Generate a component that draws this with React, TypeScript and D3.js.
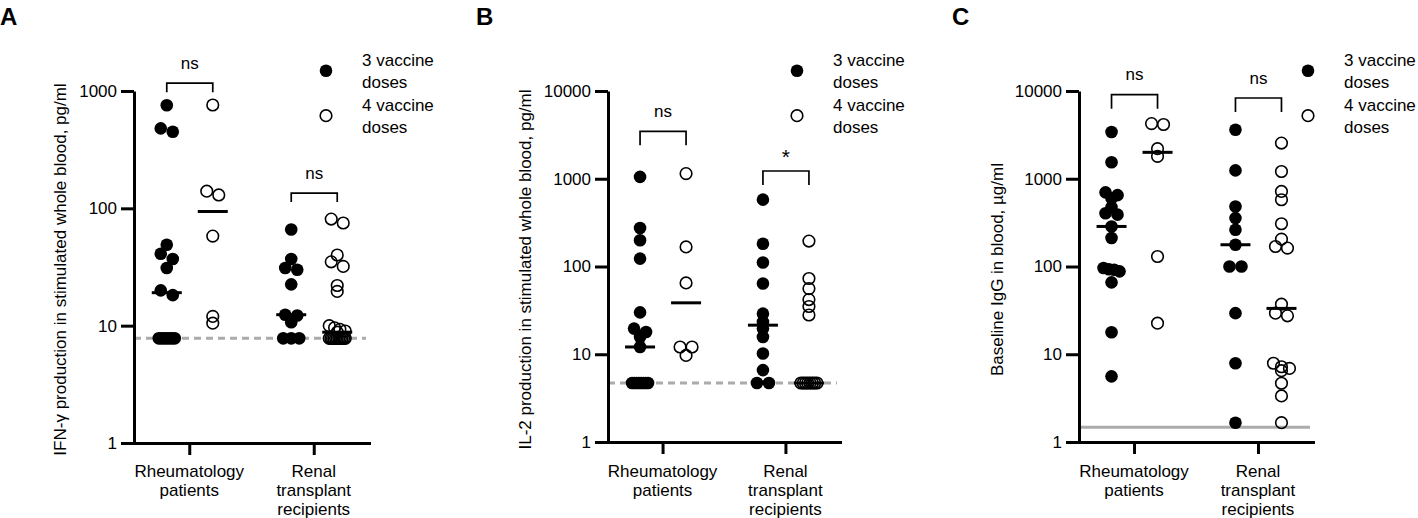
import React, { useEffect, useRef } from "react";
import * as d3 from "d3";

// categories / groups
const categories = ["Rheumatology patients", "Renal transplant recipients"];
const categoryLines = [["Rheumatology", "patients"], ["Renal", "transplant", "recipients"]];
const doses = ["3 vaccine doses", "4 vaccine doses"];
const legendLines = [["3 vaccine", "doses"], ["4 vaccine", "doses"]];

// A: IFN-γ, pg/ml
const ifnRheum3 = [757, 480, 450, 49, 41, 37, 31, 20, 18.2, 7.8, 7.8, 7.8, 7.8, 7.8, 7.8, 7.8];
const ifnRheum4 = [760, 140, 130, 58, 12, 10.5];
const ifnRenal3 = [66, 37, 31, 30, 22.5, 12.4, 12.2, 10.7, 7.8, 7.8, 7.8];
const ifnRenal4 = [81, 75, 40, 35, 32, 22, 19.6, 10, 9.6, 9.3, 9.0, 8.8, 7.8, 7.8, 7.8, 7.8, 7.8, 7.8, 7.8, 7.8, 7.8, 7.8, 7.8];

// B: IL-2, pg/ml
const il2Rheum3 = [1050, 275, 199, 123, 30, 19.6, 17.9, 15.7, 12.1, 4.7, 4.7, 4.7, 4.7, 4.7, 4.7, 4.7, 4.7];
const il2Rheum4 = [1145, 167, 65, 12.1, 12.1, 9.7];
const il2Renal3 = [578, 182, 111, 64, 29, 23.3, 19.6, 15.7, 10.2, 6.6, 4.7, 4.7];
const il2Renal4 = [195, 73, 56, 42, 35, 28, 4.7, 4.7, 4.7, 4.7, 4.7, 4.7, 4.7, 4.7];

// C: baseline IgG, µg/ml
const iggRheum3 = [3410, 1540, 700, 650, 600, 475, 405, 390, 286, 211, 96, 93, 92, 88, 66, 17.8, 5.6];
const iggRheum4 = [4250, 4150, 2200, 1800, 130, 22.6];
const iggRenal3 = [3620, 1245, 483, 356, 262, 177, 100, 100, 29.4, 7.9, 1.66];
const iggRenal4 = [2550, 1210, 717, 576, 307, 205, 169, 162, 37.2, 29.4, 27.4, 7.9, 7.2, 6.9, 6.5, 4.67, 3.35, 1.66];

const panelLetters = ["A", "B", "C"];
const yLabels = [
  "IFN-γ production in stimulated whole blood, pg/ml",
  "IL-2 production in stimulated whole blood, pg/ml",
  "Baseline IgG in blood, µg/ml",
];
const yTicks = [
  [1, 10, 100, 1000],
  [1, 10, 100, 1000, 10000],
  [1, 10, 100, 1000, 10000],
];
const cutoffs = [7.8, 4.7, 1.47];
const bracketTops = [
  [1165, 135],
  [3475, 1225],
  [9080, 8320],
];
const sigLabels = [
  ["ns", "ns"],
  ["ns", "*"],
  ["ns", "ns"],
];

const seriesA = [
  [ifnRheum3, ifnRheum4],
  [ifnRenal3, ifnRenal4],
];
const seriesB = [
  [il2Rheum3, il2Rheum4],
  [il2Renal3, il2Renal4],
];
const seriesC = [
  [iggRheum3, iggRheum4],
  [iggRenal3, iggRenal4],
];
const allSeries = [seriesA, seriesB, seriesC];

// layout (pixels)
const layout = [
  { x0: 134, x1: 369, yTop: 91, yBottom: 443, labelX: 66, legendX: 326, legLen: 9, letterX: 0, dashed: true },
  { x0: 608, x1: 840, yTop: 91, yBottom: 442, labelX: 531, legendX: 797, legLen: 14, letterX: 476, dashed: true },
  { x0: 1079, x1: 1313, yTop: 91, yBottom: 442, labelX: 1003, legendX: 1308, legLen: 14, letterX: 952, dashed: false },
];

const FONT = "'Liberation Sans', Arial, sans-serif";
const R = 6.3;

// Prism-like row scatter: points close in y share a row and spread sideways
function swarm(values: number[], y: (v: number) => number) {
  const pts = values.map((v) => ({ v, y: y(v), dx: 0 })).sort((a, b) => a.y - b.y);
  const rows: (typeof pts)[] = [];
  let cur: typeof pts = [];
  pts.forEach((p) => {
    if (cur.length && p.y - cur[0].y >= 5.5) {
      rows.push(cur);
      cur = [];
    }
    cur.push(p);
  });
  if (cur.length) rows.push(cur);
  rows.forEach((row) => {
    const k = row.length;
    const sp = k > 1 ? Math.min(12, 16 / (k - 1)) : 0;
    row.forEach((p, i) => (p.dx = (i - (k - 1) / 2) * sp));
  });
  return pts;
}

export default function App() {
  const ref = useRef<SVGSVGElement>(null);

  useEffect(() => {
    document.body.style.margin = "0";
    const svg = d3.select(ref.current);
    svg.selectAll("*").remove();

    layout.forEach((L, pi) => {
      const g = svg.append("g").attr("font-family", FONT);
      const ticks = yTicks[pi];
      const y = d3.scaleLog([1, ticks[ticks.length - 1]], [L.yBottom, L.yTop]);
      const x = d3.scalePoint(categories, [L.x0, L.x1]).padding(0.444);
      const xd = d3.scalePoint(doses, [-22.5, 23.5]);

      // panel letter
      g.append("text")
        .attr("x", L.letterX)
        .attr("y", 25)
        .attr("font-size", 24)
        .attr("font-weight", "bold")
        .text(panelLetters[pi]);

      // cutoff line
      g.append("line")
        .attr("x1", L.x0)
        .attr("x2", L.x1 - 3)
        .attr("y1", y(cutoffs[pi]))
        .attr("y2", y(cutoffs[pi]))
        .attr("stroke", "#ababab")
        .attr("stroke-width", 3)
        .attr("stroke-dasharray", L.dashed ? "7,5" : null);

      // y axis
      g.append("g")
        .attr("transform", `translate(${L.x0},0)`)
        .call(
          d3
            .axisLeft(y)
            .tickValues(ticks)
            .tickFormat(d3.format("d"))
            .tickSize(13)
            .tickSizeOuter(0)
            .tickPadding(4)
        )
        .call((a) => a.selectAll("path,line").attr("stroke-width", 3).attr("stroke", "#000"))
        .call((a) => a.selectAll("text").attr("font-size", 17).attr("font-family", FONT).attr("fill", "#000"));

      // x axis
      g.append("g")
        .attr("transform", `translate(0,${L.yBottom})`)
        .call(d3.axisBottom(x).tickSize(12).tickSizeOuter(0).tickFormat(() => ""))
        .call((a) => a.selectAll("path,line").attr("stroke-width", 3).attr("stroke", "#000"))
        .call((a) => a.select(".domain").attr("stroke-linecap", "square"));

      categories.forEach((c, ci) => {
        const t = g
          .append("text")
          .attr("text-anchor", "middle")
          .attr("font-size", 17)
          .attr("x", x(c)!)
          .attr("y", 476.5);
        categoryLines[ci].forEach((ln, li) => {
          t.append("tspan").attr("x", x(c)!).attr("dy", li === 0 ? 0 : 19).text(ln);
        });
      });

      // y label
      g.append("text")
        .attr("transform", `translate(${L.labelX},269.5) rotate(-90)`)
        .attr("text-anchor", "middle")
        .attr("font-size", 17)
        .text(yLabels[pi]);

      // points + medians
      allSeries[pi].forEach((pair, ci) => {
        pair.forEach((vals, di) => {
          const cx = x(categories[ci])! + xd(doses[di])!;
          const pts = swarm(vals, y);
          g.append("g")
            .selectAll("circle")
            .data(pts)
            .join("circle")
            .attr("cx", (d) => cx + d.dx)
            .attr("cy", (d) => d.y)
            .attr("r", di === 0 ? R : R - 0.5)
            .attr("fill", di === 0 ? "#000" : "none")
            .attr("stroke", di === 0 ? "none" : "#000")
            .attr("stroke-width", 1.6);
          const med = d3.median(vals)!;
          g.append("line")
            .attr("x1", cx - 15)
            .attr("x2", cx + 15)
            .attr("y1", y(med))
            .attr("y2", y(med))
            .attr("stroke", "#000")
            .attr("stroke-width", 3);
        });

        // significance bracket
        const xa = x(categories[ci])! + xd(doses[0])!;
        const xb = x(categories[ci])! + xd(doses[1])!;
        const yt = y(bracketTops[pi][ci]);
        g.append("path")
          .attr("d", `M${xa},${yt + L.legLen}V${yt}H${xb}V${yt + L.legLen}`)
          .attr("fill", "none")
          .attr("stroke", "#000")
          .attr("stroke-width", 1.7);
        const lab = sigLabels[pi][ci];
        g.append("text")
          .attr("x", (xa + xb) / 2)
          .attr("y", lab === "*" ? yt - 7 : yt - 14.5)
          .attr("text-anchor", "middle")
          .attr("font-size", lab === "*" ? 21 : 17)
          .text(lab);
      });

      // legend
      doses.forEach((d, di) => {
        const base = 65.7 + di * 45;
        g.append("circle")
          .attr("cx", L.legendX)
          .attr("cy", base + 5 - (di === 0 ? 0 : 0))
          .attr("r", di === 0 ? R : R - 0.5)
          .attr("fill", di === 0 ? "#000" : "none")
          .attr("stroke", di === 0 ? "none" : "#000")
          .attr("stroke-width", 1.6);
        legendLines[di].forEach((ln, li) => {
          g.append("text")
            .attr("x", L.legendX + 36)
            .attr("y", base + li * 21.8)
            .attr("font-size", 17)
            .text(ln);
        });
      });
    });
  }, []);

  return <svg ref={ref} width={1418} height={518} style={{ display: "block", background: "#fff" }} />;
}
